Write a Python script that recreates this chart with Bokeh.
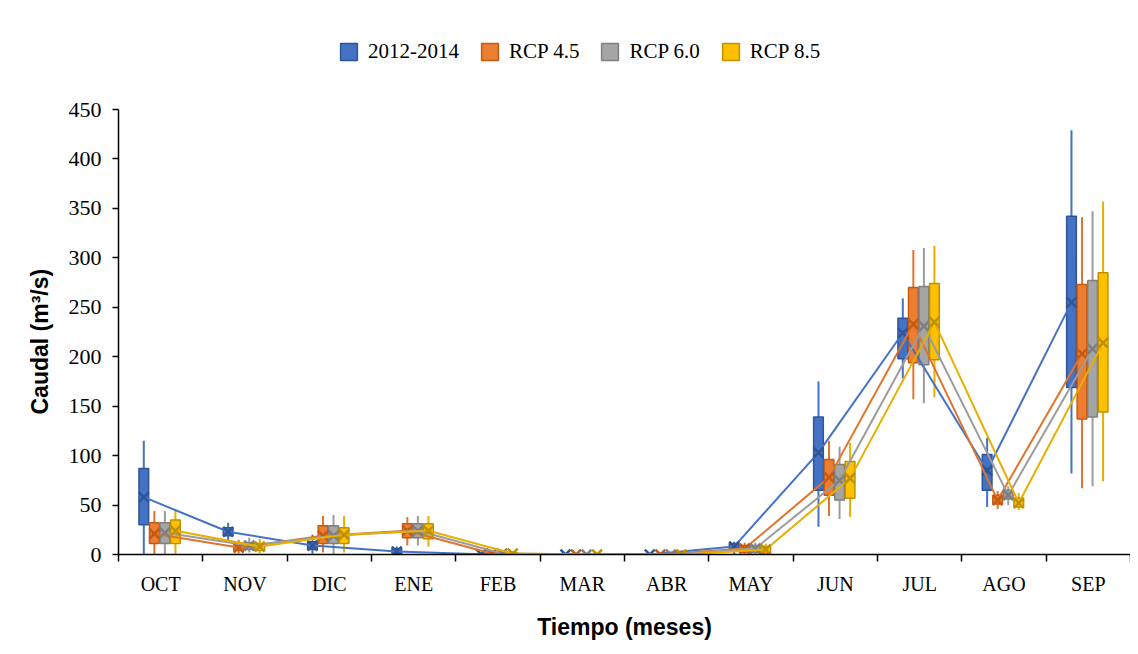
from bokeh.plotting import figure
from bokeh.models import Range1d, FixedTicker, Legend, LegendItem, ColumnDataSource, Title
from bokeh.embed import file_html
from bokeh.resources import INLINE

months = ["OCT", "NOV", "DIC", "ENE", "FEB", "MAR", "ABR", "MAY", "JUN", "JUL", "AGO", "SEP"]
series_names = ["2012-2014", "RCP 4.5", "RCP 6.0", "RCP 8.5"]
y_ticks = [0, 50, 100, 150, 200, 250, 300, 350, 400, 450]

# 2012-2014
obs_low = [0, 14, 0, 0, 0, 0, 0, 0, 28, 178, 48, 82]
obs_q1 = [30, 19, 5, 1, 0, 0, 0, 4, 65, 198, 65, 169]
obs_q3 = [87, 27, 13, 6, 0.5, 0, 0, 11, 139, 239, 101, 342]
obs_high = [115, 32, 20, 8, 1, 0, 0, 13, 175, 259, 118, 429]
obs_mean = [58, 23, 9, 3, 0.3, 0, 0, 8, 103, 224, 85, 255]

# RCP 4.5
r45_low = [0, 1, 2, 9, 0, 0, 0, 0, 39, 157, 46, 67]
r45_q1 = [11, 4, 11, 17, 0, 0, 0, 2, 60, 194, 51, 137]
r45_q3 = [32, 11, 29, 31, 2, 0, 0, 9, 96, 270, 60, 273]
r45_high = [44, 15, 39, 38, 3, 0, 0, 12, 115, 308, 64, 341]
r45_mean = [21, 7, 19, 24, 1, 0, 0, 6, 78, 233, 55, 203]

# RCP 6.0
r60_low = [0, 2, 0, 9, 0, 0, 0, 0, 36, 153, 50, 69]
r60_q1 = [11, 5, 11, 17, 0, 0, 0, 2, 55, 192, 56, 139]
r60_q3 = [32, 12, 29, 31, 2, 0, 0, 9, 91, 271, 65, 277]
r60_high = [44, 17, 40, 39, 3, 0, 0, 12, 109, 310, 69, 347]
r60_mean = [22, 9, 19, 24, 1, 0, 0, 6, 75, 231, 60, 208]

# RCP 8.5
r85_low = [0, 1, 2, 8, 0, 0, 0, 0, 38, 159, 45, 74]
r85_q1 = [11, 4, 11, 16, 0, 0, 0, 1, 57, 197, 48, 144]
r85_q3 = [35, 11, 27, 31, 2, 0, 0, 8, 94, 274, 57, 285]
r85_high = [46, 16, 39, 39, 3, 0, 0, 11, 113, 312, 62, 357]
r85_mean = [24, 8, 20, 24, 1, 0, 0, 5, 77, 235, 52, 214]

fills = ["#4472C4", "#ED7D31", "#A5A5A5", "#FFC000"]
edges = ["#2F5597", "#C55A11", "#7F7F7F", "#BF9000"]
lines = ["#4472C4", "#E0742C", "#9C9C9C", "#E8AE00"]
offsets = [-0.2, -0.075, 0.05, 0.175]
box_w = 0.115

data = [
    (obs_low, obs_q1, obs_q3, obs_high, obs_mean),
    (r45_low, r45_q1, r45_q3, r45_high, r45_mean),
    (r60_low, r60_q1, r60_q3, r60_high, r60_mean),
    (r85_low, r85_q1, r85_q3, r85_high, r85_mean),
]

# frame spans 524 px vertically; the 0-450 axis occupies the lower 445 px,
# the rest above holds the legend
FRAME_H = 524
AXIS_H = 445
y_end = y_ticks[-1] * FRAME_H / AXIS_H

p = figure(width=1130, height=30 + FRAME_H + 92, output_backend="svg", toolbar_location=None,
           x_range=Range1d(0, 12), y_range=Range1d(0, y_end),
           min_border_left=118, min_border_top=30, min_border_right=0, min_border_bottom=92)
p.outline_line_color = None
p.xgrid.visible = False
p.ygrid.visible = False
p.background_fill_color = "white"

box_renderers = []
for k in range(4):
    low, q1, q3, high, mean = data[k]
    xs = [i + 0.5 + offsets[k] for i in range(len(months))]
    src = ColumnDataSource(dict(x=xs, low=low, q1=q1, q3=q3, high=high, mean=mean))
    p.segment(x0="x", y0="low", x1="x", y1="high", source=src, line_color=lines[k], line_width=2)
    r = p.vbar(x="x", bottom="q1", top="q3", width=box_w, source=src,
               fill_color=fills[k], line_color=edges[k], line_width=1.5)
    box_renderers.append(r)

for k in range(4):
    low, q1, q3, high, mean = data[k]
    xs = [i + 0.5 + offsets[k] for i in range(len(months))]
    src = ColumnDataSource(dict(x=xs, mean=mean))
    p.line(x="x", y="mean", source=src, line_color=lines[k], line_width=2)
    p.scatter(x="x", y="mean", source=src, marker="x", size=14, line_color=edges[k], line_width=2.5)

items = [LegendItem(label=series_names[k], renderers=[box_renderers[k]]) for k in range(4)]
legend = Legend(items=items, orientation="horizontal", location=(220, 490),
                glyph_width=21, glyph_height=21, label_standoff=9, spacing=20,
                padding=0, margin=0, border_line_color=None, background_fill_alpha=0,
                label_text_font="Liberation Serif", label_text_font_size="21px",
                label_text_color="#000000", label_height=21)
p.add_layout(legend, "center")

# x axis
xa = p.xaxis[0]
xa.ticker = FixedTicker(ticks=[i + 0.5 for i in range(len(months))],
                        minor_ticks=[float(i) for i in range(len(months) + 1)])
xa.major_label_overrides = {i + 0.5: m for i, m in enumerate(months)}
xa.major_tick_in = 0
xa.major_tick_out = 0
xa.minor_tick_in = 0
xa.minor_tick_out = 7
xa.minor_tick_line_color = "black"
xa.minor_tick_line_width = 1.5
xa.axis_line_color = "black"
xa.axis_line_width = 1.5
xa.major_label_text_font = "Liberation Serif"
xa.major_label_text_font_size = "20px"
xa.major_label_text_color = "black"
xa.major_label_standoff = 11
xa.axis_label = "Tiempo (meses)"
xa.axis_label_text_font = "Liberation Sans"
xa.axis_label_text_font_style = "bold"
xa.axis_label_text_font_size = "23px"
xa.axis_label_text_color = "black"
xa.axis_label_standoff = 16

ya = p.yaxis[0]
ya.ticker = FixedTicker(ticks=y_ticks)
ya.bounds = (y_ticks[0], y_ticks[-1])
ya.minor_tick_line_color = None
ya.major_tick_in = 0
ya.major_tick_out = 6
ya.major_tick_line_color = "black"
ya.major_tick_line_width = 1.5
ya.axis_line_color = "black"
ya.axis_line_width = 1.5
ya.major_label_text_font = "Liberation Serif"
ya.major_label_text_font_size = "22px"
ya.major_label_text_color = "black"
ya.major_label_standoff = 11

# y-axis title as a left-side title so it can be centred on the 0-450 span
ytitle = Title(text="Caudal (m³/s)", align="left", offset=140,
               text_font="Liberation Sans", text_font_style="bold",
               text_font_size="23px", text_color="black", standoff=25)
p.add_layout(ytitle, "left")

open("out.html", "w").write(file_html(p, INLINE))
